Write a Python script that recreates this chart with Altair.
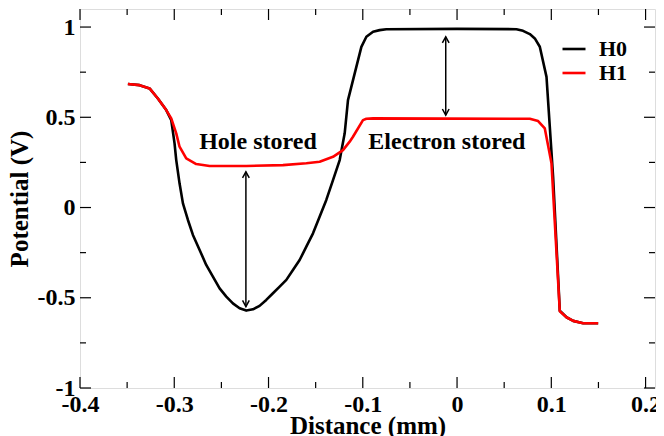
import altair as alt
import pandas as pd

# ---- data ----
h0_x = [-0.3492, -0.3368, -0.3262, -0.3174, -0.3085, -0.3032, -0.2997, -0.2979, -0.2944, -0.2908,
        -0.2855, -0.2802, -0.2731, -0.2661, -0.2590, -0.2519, -0.2448, -0.2378, -0.2307, -0.2236,
        -0.2165, -0.2095, -0.2024, -0.1953, -0.1882, -0.1811, -0.1741, -0.1670, -0.1599, -0.1528,
        -0.1458, -0.1387, -0.1316, -0.1245, -0.1192, -0.1157, -0.1015, -0.0962, -0.0891, -0.0821,
        -0.075, 0.0, 0.063, 0.070, 0.0772, 0.0825, 0.0878, 0.0949, 0.1019, 0.109,
        0.1161, 0.1232, 0.1338, 0.1497]
h0_y = [0.684, 0.678, 0.660, 0.604, 0.540, 0.4845, 0.3555, 0.263, 0.134, 0.023,
        -0.069, -0.152, -0.235, -0.318, -0.383, -0.448, -0.494, -0.531, -0.558, -0.571,
        -0.564, -0.545, -0.512, -0.475, -0.438, -0.401, -0.346, -0.291, -0.217, -0.143,
        -0.051, 0.042, 0.152, 0.263, 0.411, 0.595, 0.89, 0.946, 0.974, 0.983,
        0.988, 0.99, 0.988, 0.979, 0.961, 0.937, 0.891, 0.724, 0.170, -0.572,
        -0.608, -0.628, -0.641, -0.641]

h1_x = [-0.3492, -0.3368, -0.3262, -0.3174, -0.3085, -0.3032, -0.2979, -0.2944, -0.2873, -0.2767,
        -0.2625, -0.2236, -0.1847, -0.1599, -0.1458, -0.1316, -0.121, -0.1139, -0.1104, -0.0998,
        -0.0962, -0.0891, 0.0772, 0.086, 0.0931, 0.1002, 0.109, 0.1161, 0.1232, 0.1338,
        0.1497]
h1_y = [0.684, 0.678, 0.660, 0.604, 0.540, 0.494, 0.411, 0.337, 0.272, 0.241,
        0.230, 0.230, 0.235, 0.245, 0.254, 0.281, 0.318, 0.365, 0.392, 0.4845,
        0.492, 0.494, 0.492, 0.479, 0.438, 0.245, -0.575, -0.608, -0.628, -0.641,
        -0.641]

series_names = ["H0", "H1"]
series_colors = ["#000000", "#ff0000"]

arrow_x = [-0.224, -0.012]
arrow_top = [0.198, 0.946]
arrow_bottom = [-0.549, 0.512]

label_texts = ["Hole stored", "Electron stored"]
label_x = [-0.2112, -0.0108]
label_y = [0.364, 0.364]

x_major = [-0.4, -0.3, -0.2, -0.1, 0.0, 0.1, 0.2]
x_minor = [-0.35, -0.25, -0.15, -0.05, 0.05, 0.15]
y_major = [-1.0, -0.5, 0.0, 0.5, 1.0]
y_minor = [-0.75, -0.25, 0.25, 0.75]

X_DOMAIN = [-0.4, 0.21]
Y_DOMAIN = [-1.0, 1.1]
W, H = 575, 379
FONT = "Liberation Serif"

curves = pd.concat([
    pd.DataFrame({"x": h0_x, "y": h0_y, "series": "H0", "o": range(len(h0_x))}),
    pd.DataFrame({"x": h1_x, "y": h1_y, "series": "H1", "o": range(len(h1_x))}),
])

xs = alt.Scale(domain=X_DOMAIN, nice=False, zero=False)
ys = alt.Scale(domain=Y_DOMAIN, nice=False, zero=False)

minus_fix = "replace(format(datum.value, '~g'), '\u2212', '-')"

xaxis = alt.Axis(values=x_major, labelExpr=minus_fix, title="Distance (mm)", ticks=False,
                 domain=False, grid=False, labelFont=FONT, labelFontSize=24,
                 labelFontWeight="bold", labelColor="black", labelPadding=4,
                 labelOverlap=False, labelFlush=False,
                 titleFont=FONT, titleFontSize=25, titleFontWeight="bold", titleColor="black",
                 titlePadding=-3)
yaxis = alt.Axis(values=y_major, labelExpr=minus_fix, title="Potential (V)", ticks=False,
                 domain=False, grid=False, labelFont=FONT, labelFontSize=24,
                 labelFontWeight="bold", labelColor="black", labelPadding=5,
                 labelOverlap=False, labelFlush=False,
                 titleFont=FONT, titleFontSize=25, titleFontWeight="bold", titleColor="black",
                 titlePadding=5)

lines = alt.Chart(curves).mark_line(strokeWidth=2.6, strokeJoin="round").encode(
    x=alt.X("x:Q", scale=xs, axis=xaxis),
    y=alt.Y("y:Q", scale=ys, axis=yaxis),
    order="o:Q",
    color=alt.Color("series:N",
                    scale=alt.Scale(domain=series_names, range=series_colors),
                    legend=alt.Legend(title=None, orient="none", legendX=481, legendY=27,
                                      symbolType="stroke", symbolSize=529,
                                      symbolStrokeWidth=2.6, labelFont=FONT,
                                      labelFontSize=22, labelFontWeight="bold",
                                      labelColor="black", labelOffset=12,
                                      rowPadding=0, padding=0)),
)

arr = pd.DataFrame({"x": arrow_x, "top": arrow_top, "bottom": arrow_bottom})
arrow_rules = alt.Chart(arr).mark_rule(color="black", strokeWidth=1.5).encode(
    x=alt.X("x:Q", scale=xs), y=alt.Y("top:Q", scale=ys), y2="bottom:Q")
heads_up = alt.Chart(arr).mark_point(shape="M-0.55,1L0,0L0.55,1", size=150, filled=False,
                                     color="black", strokeWidth=1.5, opacity=1).encode(
    x=alt.X("x:Q", scale=xs), y=alt.Y("top:Q", scale=ys))
heads_down = alt.Chart(arr).mark_point(shape="M-0.55,-1L0,0L0.55,-1", size=150, filled=False,
                                       color="black", strokeWidth=1.5, opacity=1).encode(
    x=alt.X("x:Q", scale=xs), y=alt.Y("bottom:Q", scale=ys))

lab = pd.DataFrame({"t": label_texts, "x": label_x, "y": label_y})
labels = alt.Chart(lab).mark_text(font=FONT, fontSize=24, fontWeight="bold", color="black",
                                  align="center", baseline="middle").encode(
    x=alt.X("x:Q", scale=xs), y=alt.Y("y:Q", scale=ys), text="t:N")

# inward tick marks on all four sides
def xticks(vals, length):
    d = pd.DataFrame({"v": vals})
    b = alt.Chart(d).mark_rule(color="black", strokeWidth=1.2).encode(
        x=alt.X("v:Q", scale=xs), y=alt.value(H), y2=alt.value(H - length))
    t = alt.Chart(d).mark_rule(color="black", strokeWidth=1.2).encode(
        x=alt.X("v:Q", scale=xs), y=alt.value(0), y2=alt.value(length))
    return [b, t]

def yticks(vals, length):
    d = pd.DataFrame({"v": vals})
    l = alt.Chart(d).mark_rule(color="black", strokeWidth=1.2).encode(
        y=alt.Y("v:Q", scale=ys), x=alt.value(0), x2=alt.value(length))
    r = alt.Chart(d).mark_rule(color="black", strokeWidth=1.2).encode(
        y=alt.Y("v:Q", scale=ys), x=alt.value(W), x2=alt.value(W - length))
    return [l, r]

tick_layers = xticks(x_major, 11) + xticks(x_minor, 6) + yticks(y_major, 11) + yticks(y_minor, 6)

chart = alt.layer(*tick_layers, arrow_rules, heads_up, heads_down, labels, lines).properties(
    width=W, height=H,
    autosize=alt.AutoSizeParams(type="none"),
    padding={"left": 72, "top": 1, "right": 1, "bottom": 48},
).configure_view(stroke="black", strokeWidth=2).configure(background="white")

chart.save("out.html", embed_options={"renderer": "svg", "actions": False})
